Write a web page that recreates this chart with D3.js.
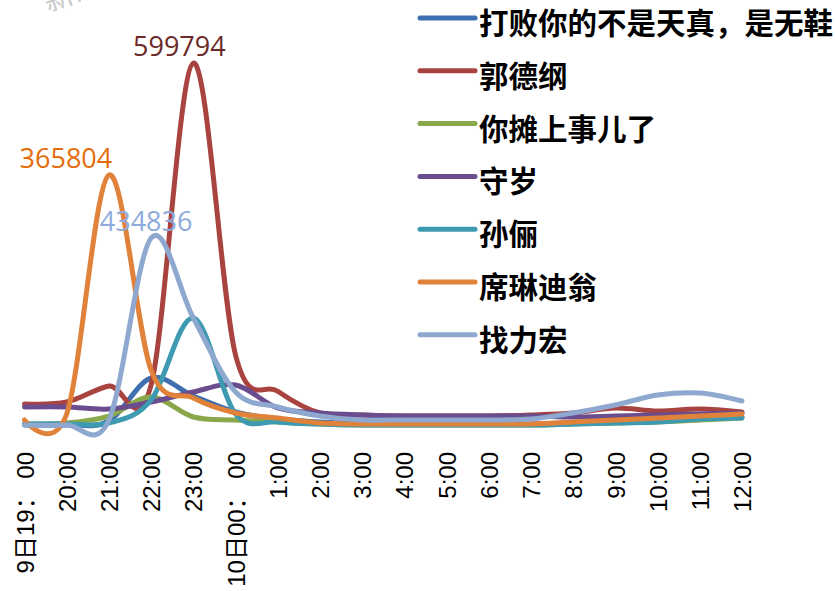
<!DOCTYPE html>
<html>
<head>
<meta charset="utf-8">
<script src="https://cdn.jsdelivr.net/npm/d3@7"></script>
<style>
  body { margin: 0; background: #fff; }
  svg { display: block; }
</style>
</head>
<body>
<script>
// hourly categories, 9th 19:00 -> 10th 12:00
var hours = ['9日19： 00', '20:00', '21:00', '22:00', '23:00', '10日00： 00', '1:00', '2:00', '3:00',
  '4:00', '5:00', '6:00', '7:00', '8:00', '9:00', '10:00', '11:00', '12:00'];

var names = ['打败你的不是天真，是无鞋', '郭德纲', '你摊上事儿了', '守岁', '孙俪', '席琳迪翁', '找力宏'];
var colors = ['#3f6fae', '#a94340', '#88a84a', '#6a4d8e', '#3e9ab1', '#e0823a', '#8ea8d0'];

// values
var blueVals   = [4900, 4900, 11500, 82200, 52600, 26300, 14800, 9900, 6600, 6600, 6600, 6600, 6600, 8200, 9900, 11500, 14800, 18100];
var redVals    = [39500, 42700, 69000, 70700, 599794, 120000, 60500, 24700, 21400, 19700, 19700, 19700, 21400, 24700, 32900, 27900, 31200, 26300];
var greenVals  = [6600, 8200, 19700, 51000, 18100, 13200, 9900, 6600, 4900, 4900, 4900, 4900, 4900, 6600, 8200, 9900, 13200, 16400];
var purpleVals = [34500, 34500, 31200, 42700, 59200, 70700, 32900, 24700, 21400, 19700, 19700, 19700, 19700, 18100, 19700, 21400, 23000, 24700];
var tealVals   = [6600, 6600, 8200, 46000, 180800, 23000, 9900, 6600, 4900, 4900, 4900, 4900, 4900, 6600, 8200, 9900, 14800, 16400];
var orangeVals = [13200, 23000, 415900, 95300, 49300, 24700, 16400, 8200, 6600, 6600, 6600, 6600, 6600, 9900, 13200, 16400, 19700, 23000];
var lblueVals  = [4900, 4900, 13200, 312300, 180800, 59200, 34500, 19700, 13200, 13200, 13200, 13200, 14800, 24700, 37800, 54200, 57500, 44400];

var allVals = [blueVals, redVals, greenVals, purpleVals, tealVals, orangeVals, lblueVals];

// peak labels: series index, category index, text, colour
var peakLabels = [
  {s: 1, i: 4, text: '599794', color: '#6b2a28'},
  {s: 5, i: 2, text: '365804', color: '#e46c0a'},
  {s: 6, i: 3, text: '434836', color: '#8eaadb'}
];

var W = 835, H = 591;

var svg = d3.select('body').append('svg')
    .attr('width', W)
    .attr('height', H);

var x = d3.scalePoint()
    .domain(hours)
    .range([24.5, 742]);

var y = d3.scaleLinear()
    .domain([0, 600000])
    .range([428, 63]);

// faint watermark, mostly off the top edge
svg.append('text')
  .attr('transform', 'translate(48,12) rotate(-20)')
  .style('font-family', 'Noto Sans CJK SC')
  .style('font-size', '30px')
  .style('fill', '#c9c9c9')
  .text('新浪微博');

var line = d3.line()
    .x(function(d, i) { return x(hours[i]); })
    .y(function(d) { return y(d); })
    .curve(d3.curveCardinal.tension(0));

svg.append('g').selectAll('path')
  .data(allVals)
  .enter().append('path')
    .attr('d', line)
    .style('fill', 'none')
    .style('stroke', function(d, i) { return colors[i]; })
    .style('stroke-width', 5)
    .style('stroke-linecap', 'round')
    .style('stroke-linejoin', 'round');

// x axis, labels only
var xAxis = d3.axisBottom(x).tickSize(0).tickPadding(0);
var gx = svg.append('g')
  .attr('transform', 'translate(0,452)')
  .call(xAxis);
gx.select('.domain').remove();
gx.selectAll('text')
  .attr('transform', 'rotate(-90)')
  .attr('x', 0)
  .attr('y', 0)
  .attr('dy', '0.36em')
  .style('text-anchor', 'end')
  .style('font-family', 'Liberation Sans, Arial, Noto Sans CJK SC')
  .style('font-size', '24px')
  .style('fill', '#000');

// data labels over the peaks (labels sit left of their point, like the original)
var labelShift = [-14, -43, -5];
svg.append('g').selectAll('text')
  .data(peakLabels)
  .enter().append('text')
    .attr('x', function(d, k) { return x(hours[d.i]) + labelShift[k]; })
    .attr('y', function(d) { return y(allVals[d.s][d.i]) - 7; })
    .style('text-anchor', 'middle')
    .style('font-family', 'Open Sans, sans-serif')
    .style('font-size', '27px')
    .style('fill', function(d) { return d.color; })
    .text(function(d) { return d.text; });

// legend
var legend = svg.append('g')
  .attr('transform', 'translate(420,18)');
var rows = legend.selectAll('g')
  .data(names)
  .enter().append('g')
    .attr('transform', function(d, i) { return 'translate(0,' + (i * 52.8) + ')'; });
rows.append('line')
  .attr('x1', 0).attr('x2', 55)
  .attr('y1', 0).attr('y2', 0)
  .style('stroke', function(d, i) { return colors[i]; })
  .style('stroke-width', 5)
  .style('stroke-linecap', 'round');
rows.append('text')
  .attr('x', 59)
  .attr('y', 16)
  .style('font-family', 'Noto Sans CJK SC')
  .style('font-weight', 'bold')
  .style('font-size', '29.5px')
  .style('fill', '#000')
  .text(function(d) { return d; });
</script>
</body>
</html>
